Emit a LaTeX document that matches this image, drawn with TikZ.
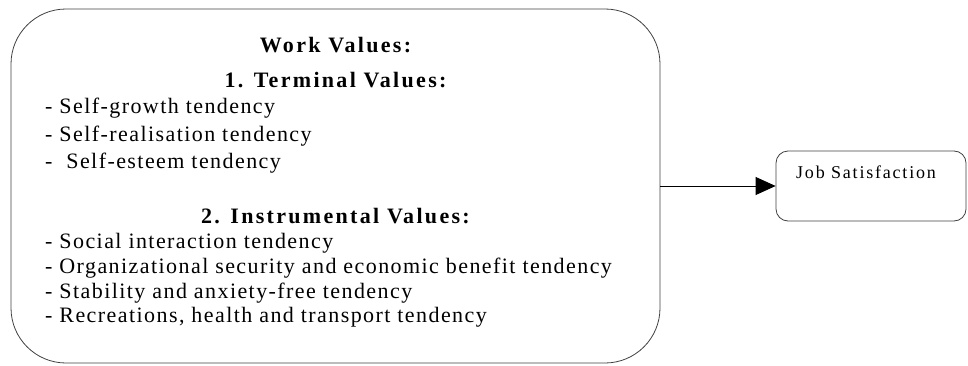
\documentclass[tikz,border=0pt]{standalone}
\usepackage{fontspec}
\setmainfont{Liberation Serif}
\newfontfamily\widefont[LetterSpace=6.5]{Liberation Serif}
\newfontfamily\headfont[LetterSpace=10.5]{Liberation Serif}
\newfontfamily\jobfont[LetterSpace=10]{Liberation Serif}
\usetikzlibrary{arrows.meta}

\tikzset{
  valbox/.style={draw=black!75, thick, rounded corners=55pt, minimum width=649pt, minimum height=354pt},
  jobbox/.style={draw=black!75, thick, rounded corners=12pt, minimum width=190pt, minimum height=70pt},
  head/.style={font=\headfont\fontsize{22}{24}\selectfont\bfseries, inner sep=0pt},
  item/.style={font=\widefont\fontsize{22}{24}\selectfont, anchor=west, inner sep=0pt},
}

\begin{document}
\begin{tikzpicture}[x=1pt,y=1pt]
\useasboundingbox (0,0) rectangle (968,365);
\node[valbox] (values) at (335.5,179) {};
\node[jobbox] (job) at (871,179) {};
\draw[black, thick, -{Triangle[length=20pt,width=18pt]}] (values.east) -- (job.west);

\node[head] (wv) at (335.5,320) {Work Values:};
\node[head] (tv) at (335.5,285) {1. Terminal Values:};
\node[item] (t1) at (45,257) {- Self-growth tendency};
\node[item] (t2) at (45,229) {- Self-realisation tendency};
\node[item] (t3) at (45,202) {-~ Self-esteem tendency};

\node[head] (iv) at (335.5,149) {2. Instrumental Values:};
\node[item] (i1) at (45,122) {- Social interaction tendency};
\node[item] (i2) at (45,97) {- Organizational security and economic benefit tendency};
\node[item] (i3) at (45,72) {- Stability and anxiety-free tendency};
\node[item] (i4) at (45,48) {- Recreations, health and transport tendency};

\node[font=\jobfont\fontsize{18}{20}\selectfont, anchor=west, inner sep=0pt] (js) at (796,193) {Job Satisfaction};
\end{tikzpicture}
\end{document}
